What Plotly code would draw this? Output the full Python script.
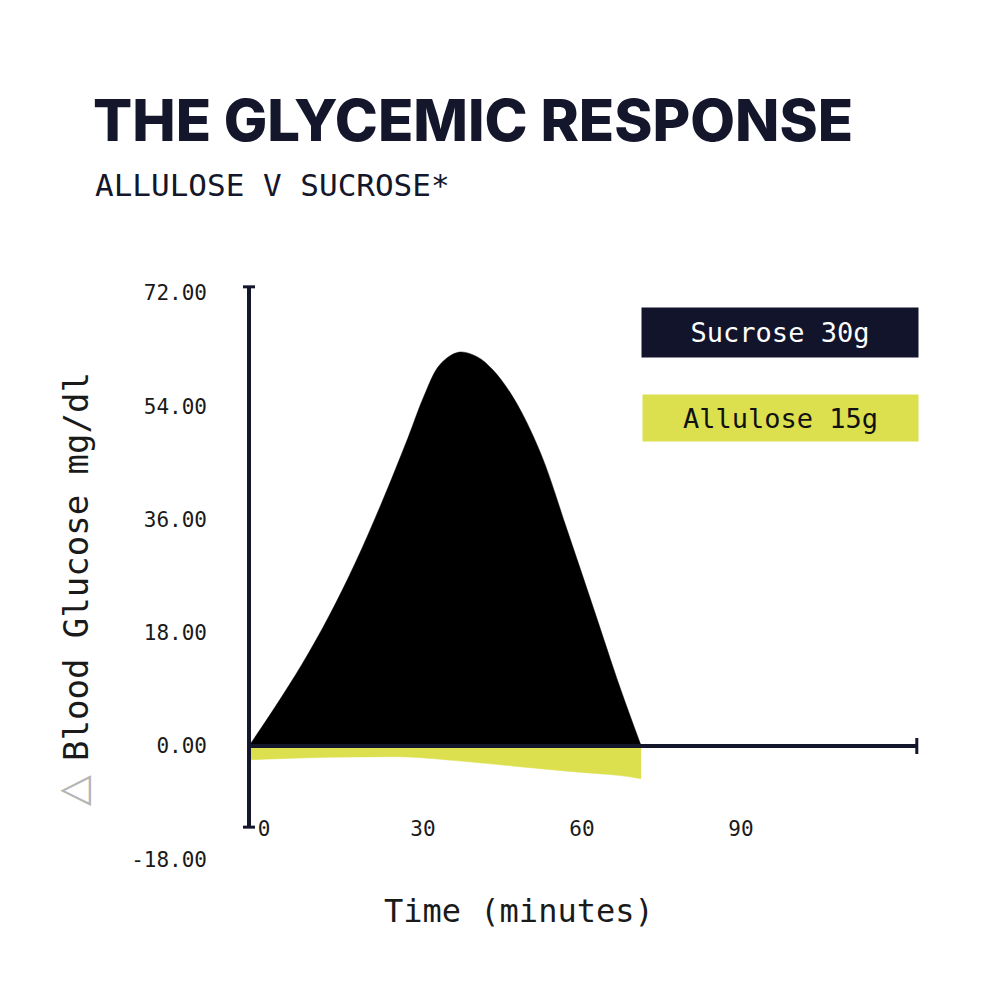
import plotly.graph_objects as go

# ---------------- data ----------------
sucrose_t = [0, 5, 10, 15, 20, 25, 30, 33, 36, 39.5, 43, 46, 50, 55, 60, 65, 70, 74]
sucrose_v = [0, 6.3, 13.0, 20.5, 29.0, 38.6, 49.0, 55.6, 60.6, 62.6, 61.9, 59.8, 55.2, 46.6, 34.4, 21.9, 9.3, 0]

allulose_t = [0, 10, 20, 30, 40, 50, 60, 70, 74]
allulose_v = [-2.2, -1.9, -1.75, -1.75, -2.4, -3.2, -4.0, -4.7, -5.2]

y_tick_vals = [72, 54, 36, 18, 0, -18]
y_tick_text = ["72.00", "54.00", "36.00", "18.00", "0.00", "-18.00"]
x_tick_vals = [0, 30, 60, 90]
x_tick_text = ["0", "30", "60", "90"]

series_names = ["Sucrose 30g", "Allulose 15g"]
title_text = "THE GLYCEMIC RESPONSE"
subtitle_text = "ALLULOSE V SUCROSE*"
x_title = "Time (minutes)"
y_title = "Blood Glucose mg/dl"

# axis extents (data units)
y_axis_top, y_axis_bottom = 73.0, -12.9
x_axis_end = 126.0

# ---------------- layout geometry ----------------
W, H = 1000, 1000
OFF = 8  # page body margin: figure pixel = page pixel - OFF
L, R, T, B = 232, 78, 272, 138
X0_PX, PX_PER_MIN = 249 - OFF, 5.3
Y0_PX, PX_PER_UNIT = 746 - OFF, 6.29

x_range = [(L - X0_PX) / PX_PER_MIN, (W - R - X0_PX) / PX_PER_MIN]
y_range = [(Y0_PX - (H - B)) / PX_PER_UNIT, (Y0_PX - T) / PX_PER_UNIT]


def px_x(px):
    return (px - OFF - L) / (W - L - R)


def px_y(py):
    return (H - B - (py - OFF)) / (H - T - B)


NAVY = "#14162b"
BLACK = "#000000"
YELLOW = "#dce04f"
MONO = "DejaVu Sans Mono"

fig = go.Figure()
fig.add_trace(go.Scatter(
    x=sucrose_t, y=sucrose_v, mode="lines", line=dict(shape="spline", width=0.5, color=BLACK),
    fill="tozeroy", fillcolor=BLACK, name=series_names[0], showlegend=False, hoverinfo="skip"))
fig.add_trace(go.Scatter(
    x=allulose_t, y=allulose_v, mode="lines", line=dict(shape="spline", width=0.5, color=YELLOW),
    fill="tozeroy", fillcolor=YELLOW, name=series_names[1], showlegend=False, hoverinfo="skip"))

# axis lines with end caps
shapes = [
    dict(type="line", xref="x", yref="y", x0=0, x1=0, y0=y_axis_bottom, y1=y_axis_top,
         line=dict(color=NAVY, width=4)),
    dict(type="line", xref="x", yref="y", xsizemode="pixel", xanchor=0, x0=-6, x1=6,
         y0=y_axis_top, y1=y_axis_top, line=dict(color=NAVY, width=3)),
    dict(type="line", xref="x", yref="y", xsizemode="pixel", xanchor=0, x0=-6, x1=6,
         y0=y_axis_bottom, y1=y_axis_bottom, line=dict(color=NAVY, width=3)),
    dict(type="line", xref="x", yref="y", x0=0, x1=x_axis_end, y0=0, y1=0,
         line=dict(color=NAVY, width=4)),
    dict(type="line", xref="x", yref="y", ysizemode="pixel", yanchor=0, y0=-8, y1=8,
         x0=x_axis_end, x1=x_axis_end, line=dict(color=NAVY, width=3)),
]

annotations = [
    dict(text=subtitle_text, xref="paper", yref="paper", x=px_x(93), y=px_y(185),
         xanchor="left", yanchor="middle", showarrow=False,
         font=dict(family=MONO, size=31, color=NAVY)),
    dict(text=y_title, textangle=-90,
         xref="paper", yref="paper", x=px_x(76), y=px_y(567),
         xanchor="center", yanchor="middle", showarrow=False,
         font=dict(family=MONO, size=34, color="#1a1a1a")),
    dict(text="△", textangle=-90,
         xref="paper", yref="paper", x=px_x(72), y=px_y(791),
         xanchor="center", yanchor="middle", showarrow=False,
         font=dict(family="DejaVu Sans", size=40, color="#b5b5b5")),
    dict(text=x_title, xref="paper", yref="paper", x=px_x(519), y=px_y(911),
         xanchor="center", yanchor="middle", showarrow=False,
         font=dict(family=MONO, size=32, color="#1a1a1a")),
    dict(text=series_names[0], xref="paper", yref="paper", x=px_x(780), y=px_y(332.5),
         xanchor="center", yanchor="middle", showarrow=False, width=276, height=49,
         bgcolor="#12142b", borderpad=0, align="center",
         font=dict(family=MONO, size=27, color="white")),
    dict(text=series_names[1], xref="paper", yref="paper", x=px_x(780.5), y=px_y(418),
         xanchor="center", yanchor="middle", showarrow=False, width=275, height=46,
         bgcolor=YELLOW, borderpad=0, align="center",
         font=dict(family=MONO, size=27, color="#111111")),
]

fig.update_layout(
    width=W, height=H,
    margin=dict(l=L, r=R, t=T, b=B),
    paper_bgcolor="white", plot_bgcolor="white",
    title=dict(text=title_text, xref="container", yref="container", x=(93 - OFF) / W,
               y=1 - (121 - OFF) / H,
               xanchor="left", yanchor="middle",
               font=dict(family="Inter", size=58, weight=800, color=NAVY)),
    shapes=shapes,
    annotations=annotations,
    xaxis=dict(range=x_range, showgrid=False, zeroline=False, showline=False,
               anchor="free", position=(H - B - (814 - OFF)) / (H - T - B),
               tickmode="array", tickvals=x_tick_vals, ticktext=x_tick_text,
               ticks="", ticklabelshift=15,
               tickfont=dict(family=MONO, size=21, color="#1a1a1a")),
    yaxis=dict(range=y_range, showgrid=False, zeroline=False, showline=False,
               tickmode="array", tickvals=y_tick_vals, ticktext=y_tick_text,
               ticks="", ticklabelstandoff=32,
               tickfont=dict(family=MONO, size=21, color="#1a1a1a")),
)

fig.write_html("out.html")
